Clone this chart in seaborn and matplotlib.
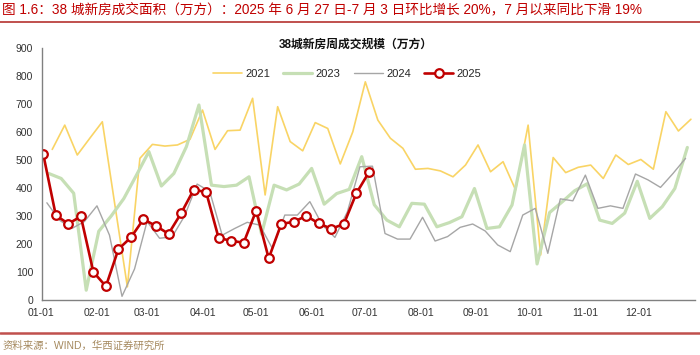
import pandas as pd
import matplotlib
matplotlib.use("Agg")
import matplotlib.pyplot as plt
import seaborn as sns


# ============================================================
# DATA (weekly, 万方; each week ends on a Thursday)
# ============================================================

TITLE = "图 1.6：38 城新房成交面积（万方）：2025 年 6 月 27 日-7 月 3 日环比增长 20%，7 月以来同比下滑 19%"
CHART_TITLE = "38城新房周成交规模（万方）"
SOURCE = "资料来源：WIND，华西证券研究所"

YEARS = ["2021", "2023", "2024", "2025"]
FIRST_WEEK = ["2021-01-07", "2023-01-05", "2024-01-04", "2025-01-02"]

VAL_2021 = [538, 625, 518, 578, 637, 340, 46, 506, 556, 550, 554, 574, 679,
            538, 605, 607, 721, 375, 691, 566, 533, 634, 613, 486, 601, 780,
            643, 578, 542, 467, 470, 461, 440, 482, 554, 458, 494, 393, 625,
            160, 509, 455, 474, 482, 434, 518, 484, 502, 467, 673, 604, 646]

VAL_2023 = [452, 434, 381, 34, 245, 300, 362, 445, 530, 407, 452, 548, 697,
            410, 405, 410, 440, 235, 410, 393, 414, 470, 342, 380, 395, 512,
            340, 285, 261, 345, 342, 261, 276, 297, 398, 255, 261, 339, 554,
            128, 312, 350, 390, 415, 285, 273, 310, 424, 291, 333, 398, 545]

VAL_2024 = [347, 285, 255, 280, 336, 231, 12, 110, 280, 220, 225, 300, 414,
            388, 231, 255, 277, 267, 184, 303, 303, 351, 267, 223, 315, 476,
            478, 237, 217, 217, 295, 210, 226, 259, 271, 246, 196, 172, 303,
            327, 166, 361, 354, 446, 327, 336, 327, 450, 429, 402, 452, 506]

VAL_2025 = [520, 302, 272, 298, 99, 48, 181, 223, 288, 264, 236, 309, 393,
            386, 221, 211, 204, 319, 148, 271, 279, 300, 273, 254, 271, 381,
            456]

VALUES = [VAL_2021, VAL_2023, VAL_2024, VAL_2025]

YTICKS = [0, 100, 200, 300, 400, 500, 600, 700, 800, 900]


# ============================================================
# STYLE
# ============================================================

RED = "#C00000"
STYLES = {
    "2021": dict(color="#F9D465", linewidth=1.2),
    "2023": dict(color="#C6DFB5", linewidth=2.3),
    "2024": dict(color="#A6A6A6", linewidth=1.0),
    "2025": dict(color=RED, linewidth=1.9, marker="o", markersize=6.2,
                 markerfacecolor="white", markeredgecolor=RED,
                 markeredgewidth=1.6),
}

sns.set_theme(style="white")
plt.rcParams["font.family"] = ["Liberation Sans", "Noto Sans CJK SC"]
plt.rcParams["axes.unicode_minus"] = False


# ============================================================
# PLOT
# ============================================================

frames = []
for year, start, vals in zip(YEARS, FIRST_WEEK, VALUES):
    dates = pd.date_range(start, periods=len(vals), freq="7D")
    frames.append(pd.DataFrame({"year": year,
                                "day": dates.dayofyear - 1,
                                "value": vals}))
df = pd.concat(frames, ignore_index=True)

fig = plt.figure(figsize=(7, 3.55), dpi=100)
ax = fig.add_axes([41.5 / 700, 1 - 299.7 / 355, 653 / 700, 251.4 / 355])

for year in YEARS:
    sub = df[df["year"] == year]
    sns.lineplot(data=sub, x="day", y="value", ax=ax, label=year,
                 estimator=None, sort=True, **STYLES[year])

# month ticks
months = pd.date_range("2025-01-01", periods=12, freq="MS")
ax.set_xticks(list(months.dayofyear - 1) + [365])
ax.set_xticklabels(list(months.strftime("%m-%d")) + [""])
ax.set_xlim(0, 365)
ax.set_ylim(0, 900)
ax.set_yticks(YTICKS)
ax.set_xlabel("")
ax.set_ylabel("")

for side in ["top", "right"]:
    ax.spines[side].set_visible(False)
for side in ["left", "bottom"]:
    ax.spines[side].set_color("#808080")
    ax.spines[side].set_linewidth(1.0)

ax.tick_params(axis="x", direction="in", length=3, width=0.8,
               color="#808080", labelsize=7.5, labelcolor="#333333", pad=6)
ax.tick_params(axis="y", direction="out", length=3, width=0.8,
               color="#808080", labelsize=7.5, labelcolor="#333333", pad=3)
ax.grid(False)

ax.legend(loc="center", bbox_to_anchor=((347 - 41.5) / 653, 0.898), ncol=4,
          frameon=False, fontsize=8, handlelength=2.6, handletextpad=0.3,
          columnspacing=1.2)

# titles, rules, source
fig.text(0.003, 1 - 9 / 355, TITLE, ha="left", va="center",
         fontsize=9.8, color=RED)
fig.add_artist(plt.Line2D([0, 1], [1 - 22 / 355] * 2, color="#C0504D",
                          linewidth=1.4))
fig.text(356 / 700, 1 - 45 / 355, CHART_TITLE, ha="center", va="center",
         fontsize=8.5, fontweight="bold", color="#111111")
fig.add_artist(plt.Line2D([0, 1], [1 - 333 / 355] * 2, color="#C0504D",
                          linewidth=1.8))
fig.text(0.003, 1 - 346 / 355, SOURCE, ha="left", va="center",
         fontsize=7.5, color="#A5895E")

fig.savefig("out.png", dpi=100)
